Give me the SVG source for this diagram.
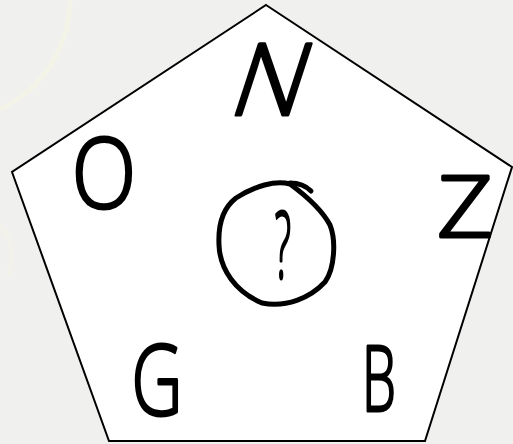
<svg xmlns="http://www.w3.org/2000/svg" width="513" height="444" viewBox="0 0 513 444">
<style>
.l{font-family:"Open Sans","Liberation Sans",sans-serif;font-weight:300;fill:#000;text-anchor:middle;stroke:#000;stroke-width:3;stroke-linejoin:round}
.h{fill:none;stroke:#000;stroke-width:5;stroke-linecap:round;stroke-linejoin:round}
.wm{fill:none;stroke:#f4f3e8;stroke-width:5}
</style>
<rect width="513" height="444" fill="#f0f0ef"/>
<g id="watermark">
<circle class="wm" cx="-50" cy="0" r="120"/>
<path class="wm" d="M0,225 Q18,245 8,275" opacity="0.8"/>
</g>
<g id="pentagon">
<polygon points="266,5 512,167 425,441 109,441 12,172" fill="#fff" stroke="#000" stroke-width="2" stroke-linejoin="miter"/>
</g>
<g id="letter-N"><text class="l" font-size="100" transform="translate(262,115) skewX(-18)">N</text></g>
<g id="letter-O"><text class="l" font-size="98" transform="translate(104,208) scale(0.86,1)">O</text></g>
<g id="letter-Z"><text class="l" font-size="84" transform="translate(465,237) scale(1.15,1)">Z</text></g>
<g id="letter-G"><text class="l" font-size="98" transform="translate(157,415) scale(0.72,1)">G</text></g>
<g id="letter-B"><text class="l" font-size="90" transform="translate(379,411) scale(0.6,1)">B</text></g>
<g id="center">
<path class="h" d="M290,184 C275,180 255,186 236,198 C223,208 218,225 219,245 C220,270 236,292 262,303 C286,308 310,298 325,282 C335,268 336,240 330,225 C322,210 305,195 290,184 Z"/>
<path class="h" d="M290,183 C300,183 307,187 311,191"/>
<text class="l" font-size="92" stroke-width="5" transform="translate(283,278) scale(0.42,1)">?</text>
</g>
</svg>
